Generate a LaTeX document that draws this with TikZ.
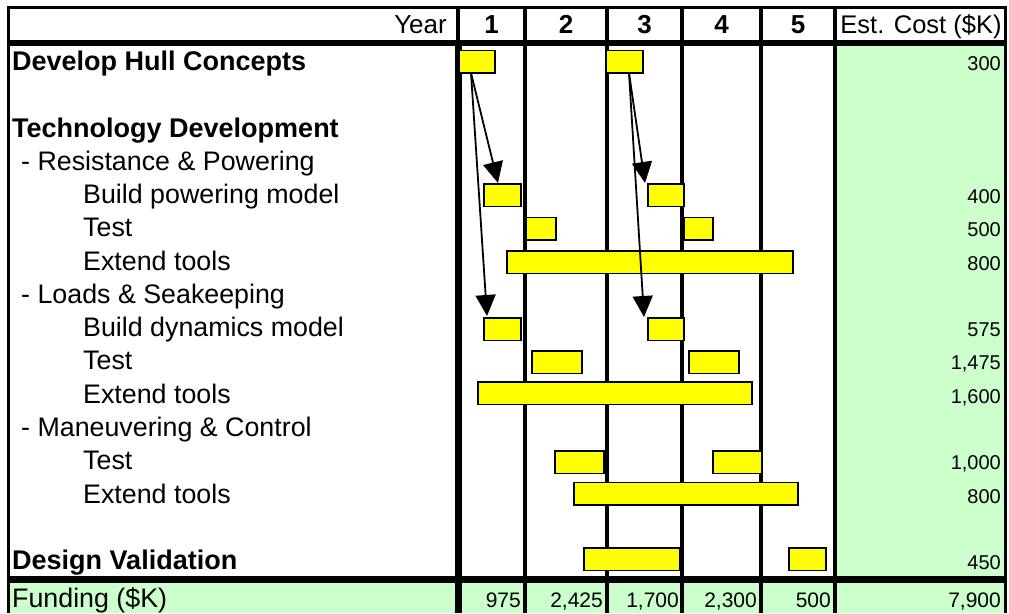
\documentclass[tikz,border=0pt]{standalone}
\usepackage{fontspec}
\setmainfont{Liberation Sans}
\usetikzlibrary{arrows.meta}
\definecolor{costgreen}{HTML}{CCFFCC}
\definecolor{baryellow}{HTML}{FFFF00}
\begin{document}
\begin{tikzpicture}[x=1pt,y=-1pt,
  lbl/.style={anchor=base west, inner sep=0, font=\fontsize{26.8}{30}\selectfont},
  blbl/.style={anchor=base west, inner sep=0, font=\fontsize{27}{30}\selectfont\bfseries},
  cost/.style={anchor=base east, inner sep=0, font=\fontsize{20}{24}\selectfont},
  fund/.style={anchor=base east, inner sep=0, font=\fontsize{21}{24}\selectfont},
  hdr/.style={anchor=base, inner sep=0, font=\fontsize{26}{30}\selectfont\bfseries},
  bar/.style={draw=black, fill=baryellow, line width=1.6pt, inner sep=0, outer sep=0, anchor=north west, minimum height=22.5pt},
  gridline/.style={line width=3.2pt},
  dep/.style={line width=1.8pt, -{Triangle[length=21pt,width=20pt]}}
]
\useasboundingbox (0,0) rectangle (1009,613);
% fills
\fill[costgreen] (835,43) rectangle (1005,579.5);
\fill[costgreen] (8,579.5) rectangle (1005,613);
% grid
\draw[line width=3pt] (6.5,7.5) -- (1006.5,7.5);
\draw[line width=3pt] (8,6) -- (8,613);
\draw[line width=3pt] (1005,6) -- (1005,613);
\draw[line width=4pt] (458,7.5) -- (458,43);
\draw[line width=7pt] (458,43) -- (458,613);
\foreach \x in {525,607,682,761,835} \draw[gridline] (\x,7.5) -- (\x,613);
\draw[line width=6.5pt] (6.5,43) -- (1006.5,43);
\draw[line width=7pt] (6.5,579.5) -- (1006.5,579.5);
% header
\node[anchor=base east, inner sep=0, font=\fontsize{26}{30}\selectfont] (year) at (447,33) {Year};
\node[hdr] (y1) at (491.5,33) {1};
\node[hdr] (y2) at (566,33) {2};
\node[hdr] (y3) at (644.5,33) {3};
\node[hdr] (y4) at (721.5,33) {4};
\node[hdr] (y5) at (798,33) {5};
\node[anchor=base, inner sep=0, font=\fontsize{25.5}{30}\selectfont] (esth) at (921,33) {Est. Cost (\$K)};
% labels
\node[blbl] (l0) at (12,70.5) {Develop Hull Concepts};
\node[blbl] (l2) at (12,137.0) {Technology Development};
\node[lbl] (l3) at (21,170.3) {- Resistance \& Powering};
\node[lbl] (l4) at (83,203.6) {Build powering model};
\node[lbl] (l5) at (83,236.9) {Test};
\node[lbl] (l6) at (83,270.1) {Extend tools};
\node[lbl] (l7) at (21,303.4) {- Loads \& Seakeeping};
\node[lbl] (l8) at (83,336.7) {Build dynamics model};
\node[lbl] (l9) at (83,369.9) {Test};
\node[lbl] (l10) at (83,403.2) {Extend tools};
\node[lbl] (l11) at (21,436.5) {- Maneuvering \& Control};
\node[lbl] (l12) at (83,469.7) {Test};
\node[lbl] (l13) at (83,503.0) {Extend tools};
\node[blbl] (l15) at (12,569.6) {Design Validation};
\node[lbl] (lf) at (12,607) {Funding (\$K)};
% costs
\node[cost] (c0) at (1001,70.5) {300};
\node[cost] (c4) at (1001,203.6) {400};
\node[cost] (c5) at (1001,236.9) {500};
\node[cost] (c6) at (1001,270.1) {800};
\node[cost] (c8) at (1001,336.7) {575};
\node[cost] (c9) at (1001,369.9) {1,475};
\node[cost] (c10) at (1001,403.2) {1,600};
\node[cost] (c12) at (1001,469.7) {1,000};
\node[cost] (c13) at (1001,503.0) {800};
\node[cost] (c15) at (1001,569.6) {450};
% funding
\node[fund] (f1) at (521,607) {975};
\node[fund] (f2) at (603,607) {2,425};
\node[fund] (f3) at (679,607) {1,700};
\node[fund] (f4) at (757,607) {2,300};
\node[fund] (f5) at (831,607) {500};
\node[fund] (ft) at (1001,607) {7,900};
% bars
\node[bar, minimum width=36pt] (devA) at (459,50.5) {};
\node[bar, minimum width=37pt] (devB) at (606,50.5) {};
\node[bar, minimum width=37pt] (bpmA) at (484,184) {};
\node[bar, minimum width=36pt] (bpmB) at (648,184) {};
\node[bar, minimum width=30pt] (tstA) at (526,217.5) {};
\node[bar, minimum width=29pt] (tstB) at (684,217.5) {};
\node[bar, minimum width=286pt] (extA) at (507,251) {};
\node[bar, minimum width=37pt] (bdmA) at (484,318) {};
\node[bar, minimum width=36pt] (bdmB) at (648,318) {};
\node[bar, minimum width=50pt] (tsbA) at (532,351) {};
\node[bar, minimum width=50pt] (tsbB) at (689,351) {};
\node[bar, minimum width=274pt] (extB) at (478,382) {};
\node[bar, minimum width=49pt] (tscA) at (555,451) {};
\node[bar, minimum width=49pt] (tscB) at (713,451) {};
\node[bar, minimum width=224pt] (extC) at (574,482.5) {};
\node[bar, minimum width=96pt] (dvA) at (584,548) {};
\node[bar, minimum width=37pt] (dvB) at (789,548) {};
% dependency arrows
\draw[dep] ([xshift=-6pt]devA.south) -- ([xshift=-4.5pt,yshift=1pt]bpmA.north);
\draw[dep] ([xshift=-6pt]devA.south) -- ([xshift=-15.5pt,yshift=2pt]bdmA.north);
\draw[dep] ([xshift=4.5pt]devB.south) -- ([xshift=-21pt,yshift=1pt]bpmB.north);
\draw[dep] ([xshift=4.5pt]devB.south) -- ([xshift=-22pt,yshift=1pt]bdmB.north);
\end{tikzpicture}
\end{document}
